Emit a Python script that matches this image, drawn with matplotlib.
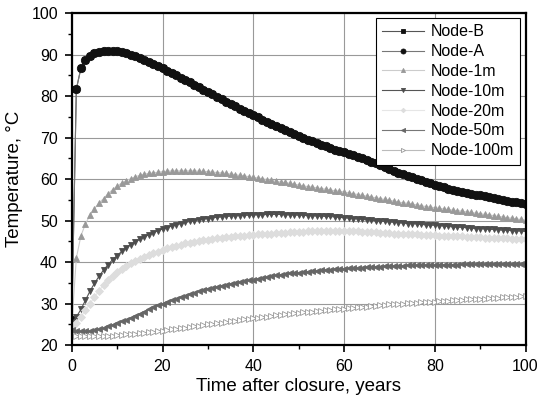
import matplotlib
matplotlib.use("Agg")
import matplotlib.pyplot as plt
import numpy as np
from matplotlib.ticker import MultipleLocator

plt.rcParams["font.family"] = ["Liberation Sans", "DejaVu Sans"]

# time after closure, years (one sample per year)
years = np.arange(0, 101)

node_b = [
    26.0, 81.7, 86.7, 88.7, 89.6, 90.3, 90.7, 90.9, 91.0, 91.0,
    90.8, 90.6, 90.3, 90.0, 89.7, 89.3, 88.8, 88.3, 87.8, 87.3,
    86.7, 86.1, 85.5, 85.0, 84.4, 83.8, 83.3, 82.7, 82.2, 81.6,
    81.0, 80.4, 79.9, 79.3, 78.7, 78.2, 77.6, 77.0, 76.5, 75.9,
    75.4, 74.9, 74.3, 73.8, 73.3, 72.8, 72.3, 71.8, 71.3, 70.9,
    70.4, 70.0, 69.5, 69.1, 68.7, 68.3, 67.9, 67.5, 67.1, 66.8,
    66.5, 66.1, 65.7, 65.3, 65.0, 64.6, 64.2, 63.8, 63.4, 62.9,
    62.4, 62.0, 61.6, 61.2, 60.8, 60.4, 60.1, 59.7, 59.3, 59.0,
    58.6, 58.3, 58.0, 57.7, 57.4, 57.2, 56.9, 56.7, 56.5, 56.3,
    56.1, 55.9, 55.7, 55.5, 55.2, 55.0, 54.8, 54.6, 54.4, 54.2,
    54.0,
]
# Node-A lies on top of Node-B over the whole record
node_a = list(node_b)

node_1m = [
    25.0, 41.0, 46.3, 49.2, 51.3, 52.9, 54.3, 55.3, 56.5, 57.5,
    58.3, 59.1, 59.6, 60.1, 60.6, 60.9, 61.2, 61.4, 61.5, 61.7,
    61.8, 61.9, 62.0, 62.0, 62.0, 62.0, 62.0, 62.0, 61.9, 61.9,
    61.8, 61.7, 61.6, 61.5, 61.4, 61.2, 61.1, 60.9, 60.8, 60.6,
    60.4, 60.3, 60.1, 59.9, 59.7, 59.5, 59.3, 59.2, 59.0, 58.8,
    58.6, 58.4, 58.2, 58.1, 57.9, 57.7, 57.6, 57.4, 57.2, 57.1,
    56.9, 56.7, 56.5, 56.3, 56.1, 55.9, 55.7, 55.5, 55.3, 55.1,
    54.9, 54.7, 54.5, 54.3, 54.2, 54.0, 53.8, 53.6, 53.4, 53.3,
    53.1, 53.0, 52.8, 52.7, 52.5, 52.4, 52.3, 52.1, 52.0, 51.8,
    51.7, 51.5, 51.4, 51.2, 51.0, 50.9, 50.7, 50.6, 50.4, 50.3,
    50.1,
]

node_10m = [
    25.4, 26.8, 28.6, 30.8, 33.0, 34.9, 36.6, 38.1, 39.4, 40.6,
    41.6, 42.6, 43.4, 44.2, 44.9, 45.5, 46.1, 46.6, 47.1, 47.6,
    48.0, 48.3, 48.7, 49.0, 49.3, 49.6, 49.8, 50.0, 50.2, 50.4,
    50.5, 50.7, 50.8, 50.9, 51.0, 51.1, 51.2, 51.2, 51.3, 51.3,
    51.4, 51.4, 51.4, 51.5, 51.5, 51.5, 51.5, 51.4, 51.4, 51.4,
    51.3, 51.3, 51.2, 51.2, 51.1, 51.1, 51.0, 51.0, 50.9, 50.8,
    50.7, 50.6, 50.5, 50.4, 50.3, 50.2, 50.1, 50.0, 49.9, 49.8,
    49.7, 49.6, 49.5, 49.4, 49.3, 49.3, 49.2, 49.1, 49.0, 48.9,
    48.9, 48.8, 48.7, 48.6, 48.5, 48.4, 48.4, 48.3, 48.2, 48.1,
    48.1, 48.0, 47.9, 47.9, 47.8, 47.7, 47.7, 47.6, 47.5, 47.5,
    47.4,
]

node_20m = [
    24.4, 25.4, 26.8, 28.4, 30.0, 31.6, 33.1, 34.5, 35.7, 36.7,
    37.6, 38.4, 39.1, 39.7, 40.3, 40.8, 41.3, 41.7, 42.1, 42.5,
    42.9, 43.3, 43.6, 43.9, 44.2, 44.5, 44.7, 44.9, 45.1, 45.3,
    45.4, 45.6, 45.7, 45.9, 46.0, 46.1, 46.2, 46.3, 46.4, 46.5,
    46.6, 46.7, 46.8, 46.9, 46.9, 47.0, 47.1, 47.1, 47.2, 47.2,
    47.3, 47.3, 47.4, 47.4, 47.4, 47.5, 47.5, 47.5, 47.5, 47.5,
    47.5, 47.5, 47.4, 47.4, 47.3, 47.3, 47.2, 47.2, 47.1, 47.1,
    47.0, 46.9, 46.9, 46.8, 46.8, 46.7, 46.7, 46.6, 46.6, 46.5,
    46.5, 46.4, 46.4, 46.3, 46.3, 46.2, 46.2, 46.1, 46.1, 46.0,
    46.0, 45.9, 45.9, 45.8, 45.8, 45.7, 45.7, 45.6, 45.6, 45.5,
    45.5,
]

node_50m = [
    23.6, 23.4, 23.3, 23.3, 23.4, 23.6, 23.8, 24.1, 24.5, 24.9,
    25.3, 25.7, 26.1, 26.6, 27.1, 27.6, 28.1, 28.6, 29.1, 29.6,
    30.0, 30.4, 30.8, 31.2, 31.6, 31.9, 32.3, 32.6, 33.0, 33.3,
    33.6, 33.8, 34.1, 34.3, 34.6, 34.8, 35.0, 35.2, 35.4, 35.6,
    35.8, 36.0, 36.2, 36.4, 36.6, 36.8, 37.0, 37.1, 37.3, 37.4,
    37.5, 37.6, 37.7, 37.8, 37.9, 38.0, 38.1, 38.2, 38.3, 38.4,
    38.4, 38.5, 38.6, 38.6, 38.7, 38.8, 38.8, 38.9, 38.9, 39.0,
    39.0, 39.1, 39.1, 39.1, 39.2, 39.2, 39.2, 39.3, 39.3, 39.3,
    39.3, 39.4, 39.4, 39.4, 39.4, 39.4, 39.5, 39.5, 39.5, 39.5,
    39.5, 39.5, 39.5, 39.6, 39.6, 39.6, 39.6, 39.6, 39.6, 39.6,
    39.6,
]

node_100m = [
    22.3, 22.2, 22.1, 22.1, 22.1, 22.1, 22.1, 22.2, 22.2, 22.3,
    22.4, 22.5, 22.6, 22.7, 22.8, 22.9, 23.0, 23.1, 23.2, 23.4,
    23.5, 23.6, 23.8, 23.9, 24.1, 24.2, 24.4, 24.5, 24.7, 24.8,
    25.0, 25.1, 25.3, 25.4, 25.6, 25.7, 25.9, 26.0, 26.2, 26.3,
    26.5, 26.6, 26.8, 26.9, 27.0, 27.2, 27.3, 27.4, 27.6, 27.7,
    27.8, 27.9, 28.0, 28.1, 28.2, 28.3, 28.4, 28.5, 28.6, 28.7,
    28.8, 28.9, 29.0, 29.1, 29.2, 29.3, 29.4, 29.5, 29.6, 29.7,
    29.8, 29.9, 29.9, 30.0, 30.1, 30.2, 30.2, 30.3, 30.4, 30.4,
    30.5, 30.6, 30.6, 30.7, 30.8, 30.8, 30.9, 31.0, 31.0, 31.1,
    31.2, 31.2, 31.3, 31.4, 31.4, 31.5, 31.6, 31.6, 31.7, 31.8,
    31.9,
]

labels = ["Node-B", "Node-A", "Node-1m", "Node-10m", "Node-20m", "Node-50m", "Node-100m"]
series = [node_b, node_a, node_1m, node_10m, node_20m, node_50m, node_100m]

# (marker, marker face, marker edge, line colour)
STYLES = [
    ("s", "#111111", "#111111", "#555555"),
    ("o", "#111111", "#111111", "#777777"),
    ("^", "#999999", "#999999", "#cccccc"),
    ("v", "#4d4d4d", "#4d4d4d", "#555555"),
    ("D", "#dddddd", "#dddddd", "#e6e6e6"),
    ("<", "#666666", "#666666", "#777777"),
    (">", "white", "#999999", "#bbbbbb"),
]
SIZES = [4.5, 6, 5, 5, 3.8, 5, 5]


def main() -> None:
    fig = plt.figure(figsize=(5.44, 3.99), dpi=100)
    ax = fig.add_axes([0.132, 0.135, 0.834, 0.832])

    for vals, label, (mk, fc, ec, lc), ms in zip(series, labels, STYLES, SIZES):
        ax.plot(years, vals, color=lc, linewidth=0.8, marker=mk, markersize=ms,
                markerfacecolor=fc, markeredgecolor=ec, markeredgewidth=0.6,
                label=label)

    ax.set_xlim(0, 100)
    ax.set_ylim(20, 100)
    ax.xaxis.set_major_locator(MultipleLocator(20))
    ax.xaxis.set_minor_locator(MultipleLocator(10))
    ax.yaxis.set_major_locator(MultipleLocator(10))
    ax.yaxis.set_minor_locator(MultipleLocator(5))
    ax.tick_params(which="major", direction="out", length=5, width=1.2,
                   labelsize=11.5, pad=5)
    ax.tick_params(which="minor", direction="out", length=3, width=1.0)
    for sp in ax.spines.values():
        sp.set_linewidth(1.6)
    ax.grid(True, which="major", color="#999999", linewidth=0.8)
    ax.set_axisbelow(True)

    ax.set_xlabel("Time after closure, years", fontsize=13.5, labelpad=3)
    ax.set_ylabel("Temperature, \u00b0C", fontsize=13.5, labelpad=6)

    leg = ax.legend(loc="upper right", bbox_to_anchor=(0.995, 0.995), fontsize=11.5,
                    fancybox=False, framealpha=1, edgecolor="black",
                    handlelength=2.6, labelspacing=0.3, borderaxespad=0.2,
                    handletextpad=0.4, markerscale=0.6)
    leg.get_frame().set_linewidth(0.8)

    fig.savefig("out.png", dpi=100)
    plt.close(fig)


if __name__ == "__main__":
    main()
